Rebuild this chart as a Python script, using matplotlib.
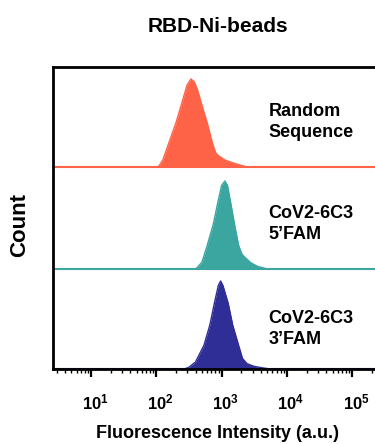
import numpy as np
import matplotlib
matplotlib.use("Agg")
import matplotlib.pyplot as plt
from matplotlib.ticker import LogLocator, NullFormatter, FixedLocator
from matplotlib.transforms import ScaledTranslation

plt.rcParams['font.family'] = ['Liberation Sans', 'DejaVu Sans']
plt.rcParams['font.weight'] = 'bold'
plt.rcParams['mathtext.fontset'] = 'custom'
plt.rcParams['mathtext.bf'] = 'Liberation Sans:bold'
plt.rcParams['mathtext.rm'] = 'Liberation Sans:bold'

# ---- data (log10 fluorescence, relative count) ----
labels = ["Random\nSequence", "CoV2-6C3\n5\u2019FAM", "CoV2-6C3\n3\u2019FAM"]
colors = ["#FF6347", "#3BA5A0", "#2E2E96"]

red_logx = [2.00, 2.04, 2.10, 2.19, 2.30, 2.40, 2.47, 2.53, 2.58, 2.63, 2.68, 2.78, 2.86, 2.91, 2.95, 3.05, 3.20, 3.39]
red_h    = [0.00, 0.01, 0.08, 0.27, 0.50, 0.75, 0.93, 1.00, 0.97, 0.88, 0.75, 0.50, 0.27, 0.16, 0.13, 0.08, 0.04, 0.00]

teal_logx = [2.58, 2.62, 2.70, 2.78, 2.87, 2.94, 3.00, 3.05, 3.09, 3.14, 3.20, 3.26, 3.31, 3.36, 3.45, 3.55, 3.70]
teal_h    = [0.00, 0.01, 0.08, 0.27, 0.50, 0.75, 0.95, 1.00, 0.95, 0.75, 0.50, 0.27, 0.17, 0.13, 0.07, 0.03, 0.00]

blue_logx = [2.43, 2.50, 2.60, 2.73, 2.82, 2.89, 2.95, 2.985, 3.02, 3.10, 3.17, 3.26, 3.32, 3.39, 3.50, 3.65, 3.75]
blue_h    = [0.00, 0.02, 0.08, 0.27, 0.50, 0.75, 0.95, 1.00, 0.95, 0.75, 0.50, 0.27, 0.12, 0.06, 0.03, 0.01, 0.00]

series = [(red_logx, red_h), (teal_logx, teal_h), (blue_logx, blue_h)]

tick_vals = [1e1, 1e2, 1e3, 1e4, 1e5]
tick_labels = [r"$\mathbf{10^{1}}$", r"$\mathbf{10^{2}}$", r"$\mathbf{10^{3}}$", r"$\mathbf{10^{4}}$", r"$\mathbf{10^{5}}$"]

# ---- layout ----
W, H = 375, 444
fig = plt.figure(figsize=(W/100, H/100), dpi=100)
left_px, top_px, bottom_px = 53, 67, 369
ax = fig.add_axes([left_px/W, 1 - bottom_px/H, 1 - left_px/W, (bottom_px - top_px)/H])

dec = 65.3
x10 = 91
x0_log = 1 - (x10 - left_px)/dec
x1_log = 1 + (W - x10)/dec
ax.set_xscale('log')
ax.set_xlim(10**x0_log, 10**x1_log)
ax.set_ylim(0, bottom_px - top_px)

offsets = [bottom_px - 167, bottom_px - 269, 0]
peak = 88
text_y = [247, 145, 40]
xfull = np.array([10**x0_log, 10**x1_log])

for (lx, h), off, c, lab, ty in zip(series, offsets, colors, labels, text_y):
    xs = 10**np.array(lx)
    ys = off + peak*np.array(h)
    ax.fill_between(xs, off, ys, color=c, lw=0)
    ax.plot(xs, ys, color=c, lw=1.0)
    ax.plot(xfull, [off, off], color=c, lw=1.5, solid_capstyle='butt')
    ax.text(10**3.72, ty, lab, fontsize=13, fontweight='bold', ha='left', va='center',
            linespacing=1.38)

for s in ['left', 'top', 'bottom']:
    ax.spines[s].set_linewidth(2.0)
ax.spines['right'].set_visible(False)
ax.set_yticks([])
ax.xaxis.set_major_locator(FixedLocator(tick_vals))
ax.set_xticklabels(tick_labels)
ax.xaxis.set_minor_locator(LogLocator(base=10, subs=np.arange(2, 10)))
ax.xaxis.set_minor_formatter(NullFormatter())
ax.tick_params(axis='x', which='major', length=6, width=1.6, labelsize=12, pad=11)
ax.tick_params(axis='x', which='minor', length=3, width=1.0)
shift = ScaledTranslation(4/100, 0, fig.dpi_scale_trans)
for lbl in ax.get_xticklabels():
    lbl.set_transform(lbl.get_transform() + shift)

fig.text(218/W, 1 - 433/H, "Fluorescence Intensity (a.u.)", fontsize=13, fontweight='bold',
         ha='center', va='center')
fig.text(218/W, 1 - 27/H, "RBD-Ni-beads", fontsize=15, fontweight='bold', ha='center', va='center')
fig.text(20/W, 1 - 225/H, "Count", fontsize=16, fontweight='bold', rotation=90, ha='center', va='center')

fig.savefig("out.png", dpi=100)
